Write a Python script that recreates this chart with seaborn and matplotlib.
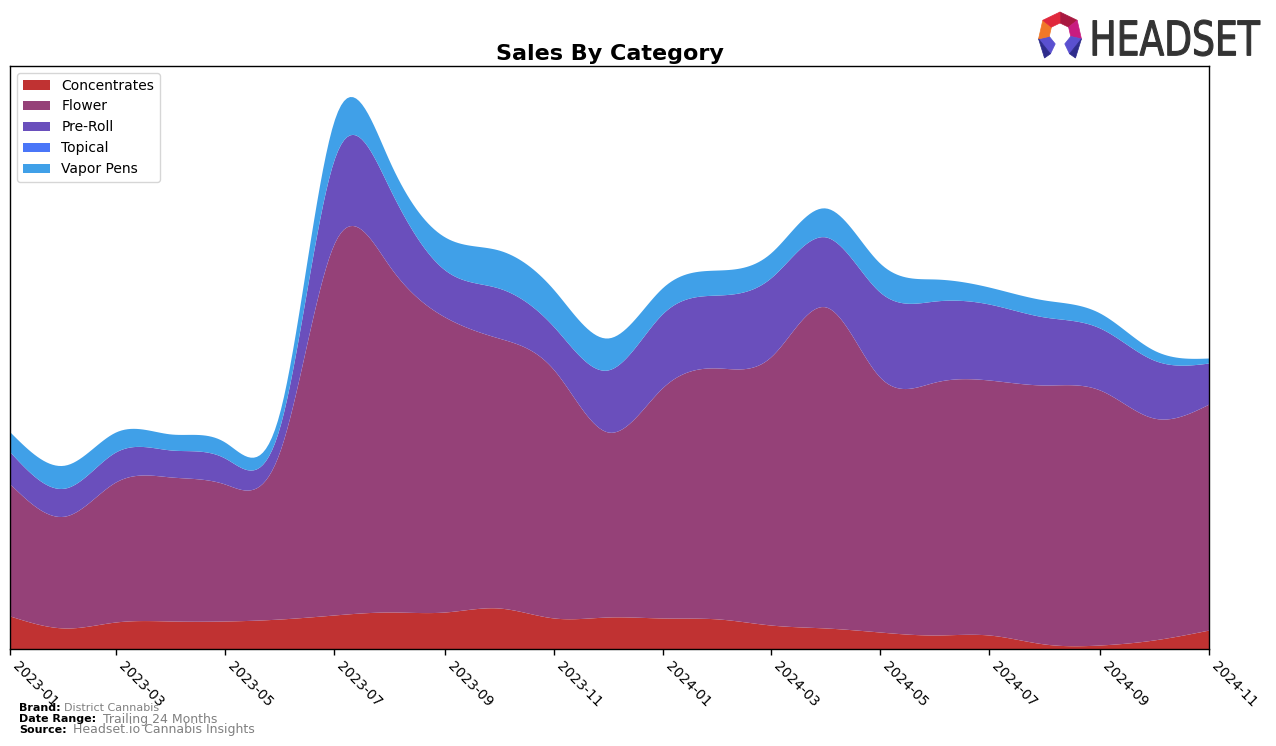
import numpy as np
import pandas as pd
import matplotlib
matplotlib.use("Agg")
import matplotlib.pyplot as plt
import matplotlib.dates as mdates
from matplotlib.textpath import TextPath
from matplotlib.patches import PathPatch, Polygon
from matplotlib.font_manager import FontProperties
import matplotlib.transforms as mtransforms
import seaborn as sns

# 月度数据
months = pd.date_range("2023-01-01", "2024-11-01", freq="MS")
categories = ["Concentrates", "Flower", "Pre-Roll", "Topical", "Vapor Pens"]
concentrates = [33, 21, 27, 28, 28, 30, 34, 37, 37, 41, 31, 32, 31, 30, 24, 21, 17, 14, 14, 5, 4, 9, 19]
flower = [132, 112, 140, 144, 137, 169, 371, 346, 295, 270, 248, 185, 231, 251, 268, 321, 255, 253, 255, 259, 255, 222, 226]
pre_roll = [32, 28, 30, 27, 26, 25, 84, 78, 47, 50, 43, 62, 74, 73, 79, 70, 85, 81, 76, 68, 62, 58, 41]
topical = [0] * 23
vapor_pens = [20, 23, 20, 16, 16, 15, 39, 27, 33, 38, 37, 32, 26, 25, 25, 29, 29, 22, 17, 17, 15, 10, 5]
colors = ["#C03232", "#954178", "#6A4FBC", "#4A76F8", "#40A0E8"]


def smooth(xs, ys, n=400):
    # 自然三次样条，只用于画平滑曲线
    xs = np.asarray(xs, float)
    ys = np.asarray(ys, float)
    k = len(xs)
    h = np.diff(xs)
    A = np.zeros((k, k))
    b = np.zeros(k)
    A[0, 0] = A[-1, -1] = 1
    for i in range(1, k - 1):
        A[i, i - 1] = h[i - 1]
        A[i, i] = 2 * (h[i - 1] + h[i])
        A[i, i + 1] = h[i]
        b[i] = 6 * ((ys[i + 1] - ys[i]) / h[i] - (ys[i] - ys[i - 1]) / h[i - 1])
    M = np.linalg.solve(A, b)
    xn = np.linspace(xs[0], xs[-1], n)
    idx = np.clip(np.searchsorted(xs, xn) - 1, 0, k - 2)
    x0, x1 = xs[idx], xs[idx + 1]
    hh = x1 - x0
    t0, t1 = x1 - xn, xn - x0
    yn = (M[idx] * t0 ** 3 + M[idx + 1] * t1 ** 3) / (6 * hh) \
        + (ys[idx] / hh - M[idx] * hh / 6) * t0 + (ys[idx + 1] / hh - M[idx + 1] * hh / 6) * t1
    return xn, np.clip(yn, 0, None)


sns.set_style("ticks")
plt.rcParams['font.family'] = ['DejaVu Sans']
plt.rcParams['text.color'] = 'black'
plt.rcParams['xtick.color'] = 'black'

fig = plt.figure(figsize=(12.76, 7.46), dpi=100)
ax = fig.add_axes([10 / 1276, 97 / 746, 1199 / 1276, 583 / 746])

xnum = mdates.date2num(months)
series = [concentrates, flower, pre_roll, topical, vapor_pens]
layers = []
for s in series:
    xn, yn = smooth(xnum, s)
    layers.append(yn)
ax.stackplot(xn, *layers, labels=categories, colors=colors, linewidth=0)

ax.set_xlim(xnum[0], xnum[-1])
ax.set_ylim(0, 583)
ax.set_yticks([])
ax.set_xticks(xnum[::2])
ax.set_xticklabels([d.strftime("%Y-%m") for d in months[::2]], rotation=-45,
                   ha="left", fontsize=10, color="black")
ax.tick_params(axis="x", length=4, width=1, colors="black")
for sp in ax.spines.values():
    sp.set_color("black")
    sp.set_linewidth(1)
ax.set_title("Sales By Category", fontsize=16, fontweight="bold", pad=4, color="black")
leg = ax.legend(loc="upper left", fontsize=10, frameon=True)
for t in leg.get_texts():
    t.set_color("black")

# 页脚
fig.text(19 / 1276, 1 - 708 / 746, "Brand:", fontsize=8, fontweight="bold", va="center")
fig.text(64 / 1276, 1 - 708 / 746, "District Cannabis", fontsize=8, color="grey", va="center")
fig.text(19 / 1276, 1 - 719 / 746, "Date Range:", fontsize=8, fontweight="bold", va="center")
fig.text(103 / 1276, 1 - 719 / 746, "Trailing 24 Months", fontsize=9, color="grey", va="center")
fig.text(19 / 1276, 1 - 730 / 746, "Source:", fontsize=8, fontweight="bold", va="center")
fig.text(73 / 1276, 1 - 730 / 746, "Headset.io Cannabis Insights", fontsize=9, color="grey", va="center")

# HEADSET 标志
logo = fig.add_axes([0, 0, 1, 1], facecolor="none")
logo.set_xlim(0, 1276)
logo.set_ylim(746, 0)
logo.axis("off")
tp = TextPath((0, 0), "HEADSET", prop=FontProperties(family="DejaVu Sans"), size=1)
bb = tp.get_extents()
sx = (1260 - 1093) / bb.width
sy = (56 - 20) / bb.height
tr = mtransforms.Affine2D().translate(-bb.x0, -bb.y0).scale(sx, -sy).translate(1093, 56)
logo.add_patch(PathPatch(tr.transform_path(tp), facecolor="#333333", edgecolor="#333333", lw=0.8))

cx, cy = 1060, 34
ro, ri = 22, 11
ang = np.deg2rad(-90 + np.arange(8) * 360 / 7)
seg_cols = {0: "#A81840", 1: "#C81C80", 2: "#5A50D0", 4: "#5A50D0", 5: "#F07828", 6: "#E0283C"}
for i, c in seg_cols.items():
    a0, a1 = ang[i], ang[i + 1]
    pts = [(cx + ro * np.cos(a0), cy + ro * np.sin(a0)), (cx + ro * np.cos(a1), cy + ro * np.sin(a1)),
           (cx + ri * np.cos(a1), cy + ri * np.sin(a1)), (cx + ri * np.cos(a0), cy + ri * np.sin(a0))]
    logo.add_patch(Polygon(pts, closed=True, facecolor=c, edgecolor=c, lw=0.5))
# 两条下垂的“腿”
for i in (2, 4):
    a0, a1 = ang[i], ang[i + 1]
    p0 = (cx + ro * np.cos(a0), cy + ro * np.sin(a0))
    p1 = (cx + ro * np.cos(a1), cy + ro * np.sin(a1))
    tip = ((p0[0] + p1[0]) / 2, 58)
    logo.add_patch(Polygon([p0, p1, tip], closed=True, facecolor="#2E2C8C", edgecolor="#2E2C8C", lw=0.5))

fig.savefig("out.png", dpi=100)
